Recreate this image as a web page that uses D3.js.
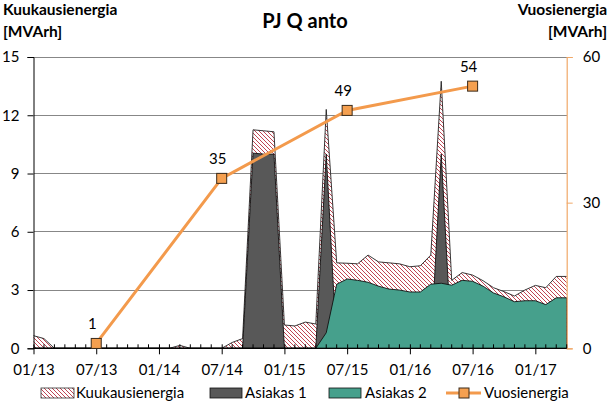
<!DOCTYPE html>
<html><head><meta charset="utf-8">
<script src="https://cdn.jsdelivr.net/npm/d3@7/dist/d3.min.js"></script>
<style>
body{margin:0;background:#fff;}
svg{display:block;font-family:Lato,"Open Sans",sans-serif;}
</style></head>
<body><svg id="c" width="610" height="407"></svg>
<script>
const months = ["01/13","02/13","03/13","04/13","05/13","06/13","07/13","08/13","09/13","10/13","11/13","12/13",
"01/14","02/14","03/14","04/14","05/14","06/14","07/14","08/14","09/14","10/14","11/14","12/14",
"01/15","02/15","03/15","04/15","05/15","06/15","07/15","08/15","09/15","10/15","11/15","12/15",
"01/16","02/16","03/16","04/16","05/16","06/16","07/16","08/16","09/16","10/16","11/16","12/16",
"01/17","02/17","03/17","04/17"];
const kuukausienergia = [0.65,0.5,0,0,0,0,0,0,0,0,0,0,
0,0,0.15,0,0,0,0,0.3,0.5,11.25,11.2,11.15,
1.2,1.15,1.35,1.25,12.3,4.4,4.38,4.35,4.8,4.45,4.4,4.35,
4.2,4.25,4.8,13.75,3.5,3.9,3.77,3.48,3.12,2.92,2.69,3.0,
3.24,3.12,3.7,3.7];
const asiakas1 = [0,0,0,0,0,0,0,0,0,0,0,0,
0,0,0,0,0,0,0,0,0,10.05,10.0,10.0,
0,0,0,0,10.0,0,0,0,0,0,0,0,
0,0,0,10.0,0,0,0,0,0,0,0,0,
0,0,0,0];
const asiakas2 = [0,0,0,0,0,0,0,0,0,0,0,0,
0,0,0,0,0,0,0,0,0,0,0,0,
0,0,0,0,0.8,3.3,3.57,3.5,3.4,3.2,3.05,3.0,
2.9,2.9,3.3,3.35,3.25,3.5,3.45,3.2,2.85,2.65,2.4,2.45,
2.45,2.25,2.6,2.6];
const vuosiMonths = ["07/13","07/14","07/15","07/16"];
const vuosienergia = [1,35,49,54];
const tickLabels = ["01/13","07/13","01/14","07/14","01/15","07/15","01/16","07/16","01/17"];
const leftTicks = [0,3,6,9,12,15];
const rightTicks = [0,30,60];

const svg = d3.select("#c");
const L=33.5, R=566.7, T=57, B=348.3;
const x = d3.scalePoint().domain(months).range([L,R]);
const y = d3.scaleLinear().domain([0,15]).range([B,T]);
const y2 = d3.scaleLinear().domain([0,60]).range([B,T]);

const defs = svg.append("defs");
const pat = defs.append("pattern").attr("id","hatch").attr("patternUnits","userSpaceOnUse")
  .attr("width",4).attr("height",4);
pat.append("rect").attr("width",4).attr("height",4).attr("fill","#fff");
pat.append("path").attr("d","M-1,-1L5,5M3,-1L5,1M-1,3L1,5").attr("stroke","#B83040").attr("stroke-width",0.9);

// gridlines
svg.append("g").selectAll("line").data(leftTicks.filter(d=>d>0)).join("line")
  .attr("x1",L).attr("x2",R).attr("y1",d=>y(d)).attr("y2",d=>y(d))
  .attr("stroke","#878787").attr("stroke-width",1).attr("shape-rendering","crispEdges");

const area = vals => d3.area().x((d,i)=>x(months[i])).y0(B).y1(d=>y(d))(vals);
const line = vals => d3.line().x((d,i)=>x(months[i])).y(d=>y(d))(vals);

svg.append("path").attr("d",area(kuukausienergia)).attr("fill","url(#hatch)");
svg.append("path").attr("d",line(kuukausienergia)).attr("fill","none").attr("stroke","#222").attr("stroke-width",0.9);
svg.append("path").attr("d",area(asiakas1)).attr("fill","#585858").attr("stroke","#111").attr("stroke-width",0.9);
svg.append("path").attr("d",area(asiakas2)).attr("fill","#46A08C").attr("stroke","#111").attr("stroke-width",0.9);

// left axis
const gl = svg.append("g").attr("transform",`translate(${L},0)`)
  .call(d3.axisLeft(y).tickValues(leftTicks).tickSize(6).tickPadding(8).tickFormat(d3.format("d")));
gl.select(".domain").attr("stroke","#000");
gl.selectAll(".tick line").attr("stroke","#000");
gl.selectAll("text").attr("font-size",15).attr("fill","#000").attr("font-family","Lato");

// right axis
const gr = svg.append("g").attr("transform",`translate(${R},0)`)
  .call(d3.axisRight(y2).tickValues(rightTicks).tickSize(6).tickPadding(10).tickFormat(d3.format("d")));
gr.select(".domain").attr("stroke","#F0A868").attr("stroke-width",1.2);
gr.selectAll(".tick line").attr("stroke","#F0A868");
gr.selectAll("text").attr("font-size",15).attr("fill","#000").attr("font-family","Lato");

// x axis
const gx = svg.append("g").attr("transform",`translate(0,${B})`)
  .call(d3.axisBottom(x).tickValues(tickLabels).tickSize(6).tickPadding(10));
gx.select(".domain").attr("stroke","#000").attr("d",`M${L},0H${R}`);
gx.selectAll(".tick line").attr("stroke","#000").attr("y1",-4);
gx.selectAll("text").attr("font-size",15).attr("fill","#000").attr("font-family","Lato");
svg.append("g").selectAll("line").data(months.filter(m=>!tickLabels.includes(m))).join("line")
  .attr("x1",d=>x(d)).attr("x2",d=>x(d)).attr("y1",B-4).attr("y2",B).attr("stroke","#000");

// Vuosienergia line
svg.append("path").attr("d",d3.line().x((d,i)=>x(vuosiMonths[i])).y(d=>y2(d))(vuosienergia))
  .attr("fill","none").attr("stroke","#F39A4C").attr("stroke-width",3);
svg.append("g").selectAll("rect").data(vuosienergia).join("rect")
  .attr("x",(d,i)=>x(vuosiMonths[i])-5).attr("y",d=>y2(d)-5).attr("width",10).attr("height",10)
  .attr("fill","#F5A050").attr("stroke","#3a2a1a").attr("stroke-width",1);
svg.append("g").selectAll("text").data(vuosienergia).join("text")
  .attr("x",(d,i)=>x(vuosiMonths[i])-4).attr("y",d=>y2(d)-14).attr("text-anchor","middle")
  .attr("font-size",15).attr("fill","#000").text(d=>d);

// titles
svg.append("text").attr("x",305).attr("y",28).attr("text-anchor","middle").attr("font-size",20)
  .attr("font-weight","bold").text("PJ Q anto");
const lt = svg.append("text").attr("font-size",15.5).attr("font-weight","bold");
lt.append("tspan").attr("x",3).attr("y",15).text("Kuukausienergia");
lt.append("tspan").attr("x",3).attr("y",37).text("[MVArh]");
const rt = svg.append("text").attr("font-size",15.5).attr("font-weight","bold").attr("text-anchor","end");
rt.append("tspan").attr("x",607).attr("y",15).text("Vuosienergia");
rt.append("tspan").attr("x",607).attr("y",37).text("[MVArh]");

// legend
const lg = svg.append("g").attr("font-size",15);
const ly = 393;
lg.append("rect").attr("x",41).attr("y",ly-5).attr("width",33).attr("height",10).attr("fill","url(#hatch)").attr("stroke","#333").attr("stroke-width",0.8);
lg.append("text").attr("x",76).attr("y",ly+5).text("Kuukausienergia");
lg.append("rect").attr("x",210).attr("y",ly-5).attr("width",32).attr("height",10).attr("fill","#585858").attr("stroke","#111").attr("stroke-width",0.8);
lg.append("text").attr("x",245).attr("y",ly+5).text("Asiakas 1");
lg.append("rect").attr("x",329).attr("y",ly-5).attr("width",32).attr("height",10).attr("fill","#46A08C").attr("stroke","#111").attr("stroke-width",0.8);
lg.append("text").attr("x",365).attr("y",ly+5).text("Asiakas 2");
lg.append("line").attr("x1",446).attr("x2",481).attr("y1",ly).attr("y2",ly).attr("stroke","#F39A4C").attr("stroke-width",3);
lg.append("rect").attr("x",459).attr("y",ly-5).attr("width",10).attr("height",10).attr("fill","#F5A050").attr("stroke","#3a2a1a");
lg.append("text").attr("x",484).attr("y",ly+5).text("Vuosienergia");
</script></body></html>
